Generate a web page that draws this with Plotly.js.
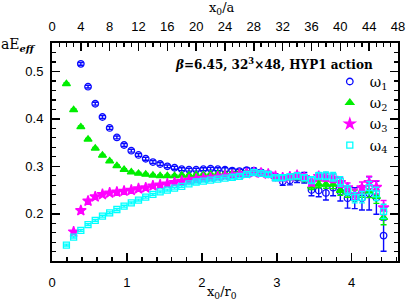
<!DOCTYPE html>
<html><head><meta charset="utf-8">
<script src="https://cdn.plot.ly/plotly-3.0.1.min.js"></script>
<style>html,body{margin:0;padding:0;background:#fff;}#chart{width:407px;height:302px;}</style>
</head><body><div id="chart"></div>
<script>
// a / r0 conversion between top (x0/a) and bottom (x0/r0) axes
const A_OVER_R0 = 0.0962;
const X_MAX_A = 48;

// omega_1 : x0/a = 4..46
const x1 = [4,5,6,7,8,9,10,11,12,13,14,15,16,17,18,19,20,21,22,23,24,25,26,27,28,29,30,31,32,33,34,35,36,37,38,39,40,41,42,43,44,45,46];
const w1 = [0.516,0.468,0.432,0.404,0.381,0.361,0.345,0.333,0.324,0.316,0.309,0.305,0.300,0.297,0.294,0.293,0.293,0.294,0.295,0.294,0.293,0.291,0.290,0.292,0.291,0.287,0.283,0.277,0.268,0.270,0.276,0.276,0.250,0.249,0.244,0.255,0.247,0.233,0.233,0.233,0.243,0.234,0.154];
const e1 = [0.003,0.003,0.003,0.003,0.003,0.003,0.003,0.003,0.003,0.003,0.003,0.003,0.003,0.003,0.003,0.003,0.003,0.003,0.003,0.003,0.004,0.004,0.004,0.005,0.005,0.006,0.006,0.007,0.008,0.009,0.010,0.011,0.012,0.013,0.015,0.017,0.020,0.021,0.022,0.025,0.035,0.035,0.033];

// omega_2 : x0/a = 2..46
const x2 = [2,3,4,5,6,7,8,9,10,11,12,13,14,15,16,17,18,19,20,21,22,23,24,25,26,27,28,29,30,31,32,33,34,35,36,37,38,39,40,41,42,43,44,45,46];
const w2 = [0.474,0.419,0.383,0.357,0.338,0.323,0.311,0.301,0.293,0.288,0.285,0.283,0.281,0.280,0.280,0.280,0.281,0.281,0.282,0.282,0.283,0.284,0.284,0.285,0.286,0.287,0.286,0.284,0.282,0.278,0.276,0.277,0.278,0.274,0.258,0.262,0.262,0.262,0.249,0.245,0.239,0.247,0.247,0.236,0.192];
const e2 = [0.002,0.002,0.002,0.002,0.002,0.002,0.002,0.002,0.002,0.002,0.002,0.002,0.002,0.002,0.002,0.002,0.002,0.002,0.002,0.002,0.002,0.002,0.002,0.003,0.003,0.003,0.003,0.003,0.004,0.004,0.005,0.005,0.006,0.006,0.007,0.007,0.008,0.009,0.010,0.010,0.011,0.012,0.013,0.014,0.015];

// omega_3 : x0/a = 3..46
const x3 = [3,4,5,6,7,8,9,10,11,12,13,14,15,16,17,18,19,20,21,22,23,24,25,26,27,28,29,30,31,32,33,34,35,36,37,38,39,40,41,42,43,44,45,46];
const w3 = [0.162,0.207,0.227,0.236,0.241,0.244,0.246,0.248,0.250,0.253,0.255,0.259,0.261,0.263,0.266,0.269,0.271,0.273,0.275,0.276,0.278,0.280,0.281,0.283,0.285,0.287,0.286,0.284,0.279,0.276,0.278,0.281,0.277,0.266,0.279,0.277,0.275,0.266,0.255,0.241,0.255,0.266,0.256,0.213];
const e3 = [0.002,0.002,0.002,0.002,0.002,0.002,0.002,0.002,0.002,0.002,0.002,0.002,0.002,0.002,0.002,0.002,0.002,0.002,0.002,0.002,0.002,0.002,0.003,0.003,0.003,0.003,0.003,0.004,0.004,0.005,0.005,0.006,0.006,0.007,0.007,0.008,0.009,0.010,0.010,0.011,0.012,0.013,0.014,0.015];

// omega_4 : x0/a = 2..46
const x4 = [2,3,4,5,6,7,8,9,10,11,12,13,14,15,16,17,18,19,20,21,22,23,24,25,26,27,28,29,30,31,32,33,34,35,36,37,38,39,40,41,42,43,44,45,46];
const w4 = [0.134,0.151,0.165,0.177,0.186,0.195,0.202,0.209,0.216,0.223,0.229,0.235,0.241,0.246,0.250,0.254,0.258,0.263,0.267,0.269,0.271,0.273,0.275,0.277,0.279,0.283,0.287,0.285,0.283,0.276,0.276,0.278,0.280,0.276,0.271,0.280,0.280,0.278,0.268,0.250,0.234,0.235,0.255,0.242,0.205];
const e4 = [0.002,0.002,0.002,0.002,0.002,0.002,0.002,0.002,0.002,0.002,0.002,0.002,0.002,0.002,0.002,0.002,0.002,0.002,0.002,0.002,0.002,0.002,0.002,0.003,0.003,0.003,0.003,0.003,0.004,0.004,0.005,0.005,0.006,0.006,0.007,0.007,0.008,0.009,0.010,0.010,0.011,0.012,0.013,0.014,0.015];

const names = ['ω<sub>1</sub>','ω<sub>2</sub>','ω<sub>3</sub>','ω<sub>4</sub>'];
const colors = ['#0a0aff','#00ee00','#ff00ff','#00ffff'];

function tr(x, y, e, i, sym, size) {
  return {
    x: x.map(v => v * A_OVER_R0), y: y, xaxis: 'x', yaxis: 'y', type: 'scatter', mode: 'markers', name: names[i],
    marker: {symbol: sym, size: size, color: colors[i], line: {color: colors[i], width: 1.3}},
    error_y: {type: 'data', array: e, visible: true, color: colors[i], thickness: 1.4, width: 3},
    cliponaxis: true
  };
}

const data = [
  tr(x1, w1, e1, 0, 'circle-open', 6.5),
  tr(x2, w2, e2, 1, 'triangle-up', 7),
  tr(x3, w3, e3, 2, 'star', 8),
  tr(x4, w4, e4, 3, 'square-open', 6),
  // carrier so the top x0/a axis is drawn
  {x: [0, X_MAX_A], y: [null, null], xaxis: 'x2', yaxis: 'y', type: 'scatter', mode: 'markers', showlegend: false, hoverinfo: 'skip'}
];

const tickFont = {family: 'Liberation Sans, Arial, sans-serif', size: 13, color: '#000'};
const serif = 'DejaVu Serif, serif';

const layout = {
  width: 407, height: 302,
  margin: {l: 52, r: 9, t: 43, b: 41, pad: 0},
  paper_bgcolor: '#fff', plot_bgcolor: '#fff',
  showlegend: true,
  legend: {x: 0.985, xanchor: 'right', y: 0.895, yanchor: 'top', bgcolor: 'rgba(0,0,0,0)',
           font: {family: serif, size: 14, color: '#000'}, itemwidth: 30, tracegroupgap: 0},
  xaxis: {
    range: [0, X_MAX_A * A_OVER_R0], tickmode: 'linear', tick0: 0, dtick: 1,
    ticks: 'inside', ticklen: 8, tickwidth: 1.5, tickcolor: '#000',
    minor: {tickmode: 'linear', tick0: 0, dtick: 0.2, ticks: 'inside', ticklen: 4, tickwidth: 1.2, tickcolor: '#000', showgrid: false},
    showline: true, linewidth: 2, linecolor: '#000', mirror: false,
    showgrid: false, zeroline: false, tickfont: tickFont, ticklabelstandoff: 8
  },
  xaxis2: {
    overlaying: 'x', side: 'top', anchor: 'y',
    range: [0, X_MAX_A], tickmode: 'linear', tick0: 0, dtick: 4,
    ticks: 'inside', ticklen: 8, tickwidth: 1.5, tickcolor: '#000',
    minor: {tickmode: 'linear', tick0: 0, dtick: 1, ticks: 'inside', ticklen: 4, tickwidth: 1.2, tickcolor: '#000', showgrid: false},
    showline: true, linewidth: 2, linecolor: '#000',
    showgrid: false, zeroline: false, tickfont: tickFont, ticklabelstandoff: 5
  },
  yaxis: {
    range: [0.1005, 0.56], tickmode: 'linear', tick0: 0, dtick: 0.1,
    ticks: 'inside', ticklen: 8, tickwidth: 1.5, tickcolor: '#000',
    minor: {tickmode: 'linear', tick0: 0, dtick: 0.02, ticks: 'inside', ticklen: 4, tickwidth: 1.2, tickcolor: '#000', showgrid: false},
    showline: true, linewidth: 2, linecolor: '#000', mirror: 'ticks',
    showgrid: false, zeroline: false, tickfont: tickFont, ticklabelstandoff: 4
  },
  annotations: [
    {text: 'x<sub>0</sub>/a', xref: 'paper', yref: 'paper', x: 0.49, y: 1.16, xanchor: 'center', yanchor: 'middle', showarrow: false,
     font: {family: serif, size: 13, color: '#000'}},
    {text: 'x<sub>0</sub>/r<sub>0</sub>', xref: 'paper', yref: 'paper', x: 0.49, y: -0.145, xanchor: 'center', yanchor: 'middle', showarrow: false,
     font: {family: serif, size: 13, color: '#000'}},
    {text: 'aE<sub><b><i>eff</i></b></sub>', xref: 'paper', yref: 'paper', x: -0.098, y: 0.99, xanchor: 'center', yanchor: 'middle', showarrow: false,
     font: {family: serif, size: 14, color: '#000'}},
    {text: '<b><i>β</i>=6.45, 32<sup>3</sup>×48, HYP1 action</b>', xref: 'paper', yref: 'paper', x: 0.934, y: 0.905, xanchor: 'right', yanchor: 'middle', showarrow: false,
     font: {family: serif, size: 12, color: '#000'}}
  ]
};

Plotly.newPlot('chart', data, layout, {displayModeBar: false, staticPlot: true});
</script>
</body></html>
